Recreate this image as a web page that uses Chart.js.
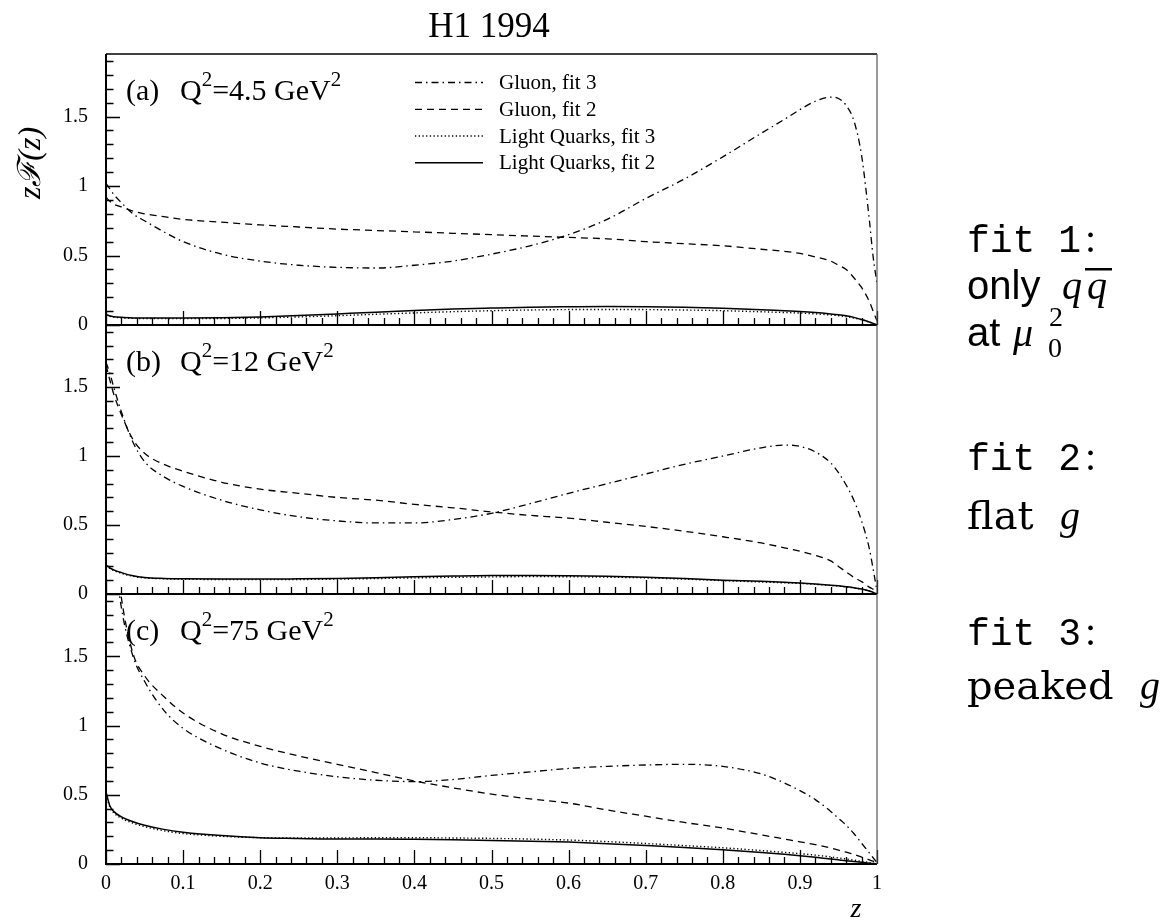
<!DOCTYPE html>
<html><head><meta charset="utf-8">
<script src="https://cdn.jsdelivr.net/npm/chart.js@4.4.1/dist/chart.umd.min.js"></script>
<style>
html,body{margin:0;padding:0;background:#fff;}
#wrap{position:relative;width:1171px;height:924px;background:#fff;overflow:hidden}
#wrap canvas{position:absolute;left:0;top:0;}
</style></head><body>
<div id="wrap">
<canvas id="ca" width="1171" height="924"></canvas>
<canvas id="cb" width="1171" height="924"></canvas>
<canvas id="cc" width="1171" height="924"></canvas>
</div>
<script>
// ---------------- data ----------------
const titleText = 'H1 1994';
const seriesLabels = ['Gluon, fit 3', 'Gluon, fit 2', 'Light Quarks, fit 3', 'Light Quarks, fit 2'];
const panelTags = ['(a)', '(b)', '(c)'];
const panelQ2 = ['4.5', '12', '75'];
const xTickLabels = ['0','0.1','0.2','0.3','0.4','0.5','0.6','0.7','0.8','0.9','1'];
const yTickLabels = ['0','0.5','1','1.5'];
const zValues = [0,0.005,0.01,0.02,0.035,0.05,0.075,0.1,0.15,0.2,0.25,0.3,0.35,0.4,0.45,0.5,0.55,0.6,0.65,0.7,0.75,0.8,0.85,0.88,0.9,0.92,0.94,0.95,0.96,0.97,0.98,0.99,0.995,1];

// panel (a) Q2 = 4.5 GeV2
const gluonFit3A = [1.02,0.98,0.94,0.88,0.80,0.75,0.67,0.60,0.51,0.46,0.43,0.415,0.41,0.43,0.46,0.51,0.57,0.65,0.76,0.91,1.05,1.21,1.38,1.48,1.55,1.61,1.64,1.63,1.58,1.47,1.22,0.76,0.49,0.30];
const gluonFit2A = [0.92,0.89,0.87,0.85,0.82,0.80,0.78,0.76,0.74,0.72,0.705,0.69,0.68,0.67,0.66,0.65,0.64,0.63,0.62,0.60,0.585,0.57,0.545,0.53,0.515,0.49,0.46,0.43,0.40,0.34,0.27,0.17,0.10,0.03];
const quarkFit3A = [0.07,0.062,0.057,0.052,0.048,0.047,0.046,0.046,0.047,0.051,0.058,0.067,0.077,0.087,0.096,0.103,0.108,0.111,0.112,0.111,0.108,0.103,0.095,0.09,0.086,0.08,0.072,0.067,0.06,0.05,0.038,0.021,0.011,0];
const quarkFit2A = [0.075,0.065,0.06,0.055,0.05,0.05,0.05,0.05,0.052,0.058,0.068,0.08,0.092,0.105,0.115,0.122,0.128,0.131,0.133,0.132,0.128,0.121,0.11,0.102,0.097,0.09,0.08,0.074,0.066,0.055,0.04,0.022,0.012,0];

// panel (b) Q2 = 12 GeV2
const gluonFit3B = [1.68,1.60,1.50,1.32,1.10,0.96,0.85,0.78,0.68,0.61,0.56,0.53,0.515,0.515,0.54,0.585,0.655,0.73,0.80,0.87,0.94,1.00,1.06,1.08,1.07,1.03,0.95,0.88,0.79,0.68,0.53,0.33,0.18,0.02];
const gluonFit2B = [1.66,1.55,1.45,1.30,1.12,1.02,0.94,0.89,0.81,0.76,0.73,0.70,0.68,0.65,0.625,0.595,0.57,0.55,0.52,0.49,0.455,0.415,0.37,0.335,0.31,0.28,0.24,0.20,0.16,0.12,0.09,0.05,0.035,0.02];
const quarkFit3B = [0.205,0.185,0.17,0.15,0.128,0.117,0.11,0.107,0.105,0.104,0.105,0.108,0.112,0.117,0.121,0.124,0.126,0.125,0.122,0.117,0.108,0.097,0.087,0.081,0.077,0.07,0.062,0.057,0.051,0.044,0.035,0.021,0.011,0];
const quarkFit2B = [0.21,0.19,0.175,0.155,0.132,0.12,0.113,0.11,0.108,0.108,0.11,0.113,0.118,0.125,0.13,0.134,0.135,0.133,0.129,0.122,0.112,0.10,0.092,0.085,0.08,0.073,0.064,0.059,0.053,0.046,0.036,0.022,0.012,0];

// panel (c) Q2 = 75 GeV2
const gluonFit3C = [3.2,2.7,2.3,1.85,1.5,1.32,1.11,0.98,0.83,0.73,0.67,0.63,0.605,0.595,0.61,0.64,0.665,0.69,0.705,0.715,0.72,0.705,0.65,0.585,0.53,0.465,0.38,0.33,0.28,0.22,0.15,0.08,0.045,0.01];
const gluonFit2C = [3.4,2.9,2.4,1.92,1.52,1.36,1.21,1.09,0.94,0.85,0.78,0.72,0.66,0.60,0.55,0.505,0.47,0.44,0.39,0.345,0.30,0.26,0.21,0.18,0.16,0.14,0.115,0.10,0.085,0.07,0.05,0.03,0.02,0.01];
const quarkFit3C = [0.5,0.41,0.37,0.33,0.295,0.27,0.24,0.22,0.2,0.19,0.188,0.188,0.19,0.19,0.188,0.185,0.18,0.173,0.162,0.148,0.133,0.117,0.097,0.084,0.075,0.064,0.051,0.044,0.036,0.028,0.019,0.01,0.005,0];
const quarkFit2C = [0.52,0.42,0.38,0.34,0.305,0.28,0.25,0.23,0.205,0.19,0.185,0.18,0.18,0.178,0.175,0.17,0.165,0.158,0.147,0.134,0.12,0.103,0.083,0.07,0.06,0.048,0.036,0.03,0.024,0.018,0.012,0.006,0.003,0];

// ---------------- layout / style ----------------
const W = 1171, H = 924;
const plotLeft = 106, plotRight = 877;
const panelTop = [54, 325, 594];
const panelBottom = [325, 594, 864];
const dashes = [[7,4,1.5,4],[7,5],[1.3,2.4],[]];
const lineWidths = [1.3,1.3,1.4,1.5];
const SERIF = '"Liberation Serif", "Times New Roman", serif';

function drawLegend(ctx, chart) {
  const rows = [82.5, 109.3, 136, 162.7];
  ctx.font = '21px ' + SERIF;
  ctx.textBaseline = 'middle';
  ctx.textAlign = 'left';
  chart.data.datasets.forEach((ds, i) => {
    const y = rows[i];
    ctx.save();
    ctx.strokeStyle = '#000';
    ctx.lineWidth = ds.borderWidth;
    ctx.setLineDash(ds.borderDash || []);
    ctx.beginPath(); ctx.moveTo(415, y); ctx.lineTo(483, y); ctx.stroke();
    ctx.restore();
    ctx.fillText(ds.label, 499, y + 1);
  });
}

function drawPanelLabel(ctx, area, idx) {
  const base = area.top + 46;
  ctx.textBaseline = 'alphabetic';
  ctx.textAlign = 'left';
  const big = '30px ' + SERIF, small = '21px ' + SERIF;
  ctx.font = big;
  ctx.fillText(panelTags[idx], 126, base);
  let x = 180;
  ctx.fillText('Q', x, base); x += ctx.measureText('Q').width;
  ctx.font = small; ctx.fillText('2', x, base - 14); x += ctx.measureText('2').width;
  ctx.font = big; const t = '=' + panelQ2[idx] + ' GeV';
  ctx.fillText(t, x, base); x += ctx.measureText(t).width;
  ctx.font = small; ctx.fillText('2', x, base - 14);
}

function drawNotes(ctx) {
  const mono = '38px "Liberation Mono", "DejaVu Sans Mono", monospace';
  const colon = '40px ' + SERIF;
  const sans = '40px "Liberation Sans", Arial, sans-serif';
  const rom = '40px "DejaVu Serif", serif';
  const ital = 'italic 40px ' + SERIF;
  ctx.textBaseline = 'alphabetic'; ctx.textAlign = 'left'; ctx.fillStyle = '#000';
  const fitBase = [252, 470, 645];
  ['fit 1', 'fit 2', 'fit 3'].forEach((t, i) => {
    ctx.font = mono; ctx.fillText(t, 967, fitBase[i]);
    const w = ctx.measureText(t).width;
    ctx.font = colon; ctx.fillText(':', 967 + w + 4, fitBase[i]);
  });
  // only q qbar
  ctx.font = sans; ctx.fillText('only', 967, 299);
  ctx.font = ital; ctx.fillText('q', 1062, 299); ctx.fillText('q', 1087, 299);
  ctx.fillRect(1085, 268, 27, 2.5);
  // at mu0^2
  ctx.font = sans; ctx.fillText('at', 967, 346);
  ctx.font = ital; ctx.fillText('μ', 1013, 346);
  ctx.font = '28px ' + SERIF; ctx.fillText('0', 1048, 357); ctx.fillText('2', 1049, 326);
  // flat g
  ctx.font = rom; ctx.fillText('flat', 967, 529);
  ctx.font = ital; ctx.fillText('g', 1060, 529);
  // peaked g
  ctx.font = rom; ctx.fillText('peaked', 967, 699);
  ctx.font = ital; ctx.fillText('g', 1140, 699);
}

const decor = {
  id: 'decor',
  afterDatasetsDraw(chart, args, opts) {
    const ctx = chart.ctx, a = chart.chartArea;
    const xs = chart.scales.x, ys = chart.scales.y;
    ctx.save();
    ctx.strokeStyle = '#000'; ctx.fillStyle = '#000';
    // inward ticks
    ctx.lineWidth = 1.3;
    ctx.beginPath();
    for (let i = 0; i <= 50; i++) {
      const px = Math.round(xs.getPixelForValue(i / 50)) + 0.5;
      const len = (i % 5 === 0) ? 14 : 7;
      ctx.moveTo(px, a.bottom); ctx.lineTo(px, a.bottom - len);
    }
    for (let i = 0; i <= 19; i++) {
      const py = Math.round(ys.getPixelForValue(i / 10)) + 0.5;
      const len = (i % 5 === 0) ? 14 : 7.5;
      ctx.moveTo(a.left, py); ctx.lineTo(a.left + len, py);
    }
    ctx.stroke();
    // frame
    ctx.lineWidth = 2;
    ctx.beginPath();
    ctx.moveTo(a.left, a.top); ctx.lineTo(a.left, a.bottom); ctx.lineTo(a.right, a.bottom);
    ctx.stroke();
    ctx.lineWidth = 1.4;
    ctx.beginPath();
    ctx.moveTo(a.left, a.top); ctx.lineTo(a.right, a.top);
    ctx.stroke();
    ctx.strokeStyle = '#555';
    ctx.lineWidth = 1.2;
    ctx.beginPath();
    ctx.moveTo(a.right, a.top); ctx.lineTo(a.right, a.bottom);
    ctx.stroke();
    ctx.strokeStyle = '#000';
    drawPanelLabel(ctx, a, opts.idx);
    if (opts.idx === 0) {
      drawLegend(ctx, chart);
      ctx.font = '35px ' + SERIF; ctx.textAlign = 'center'; ctx.textBaseline = 'alphabetic';
      ctx.fillText(titleText, 489, 37);
      ctx.save();
      ctx.translate(32, 163); ctx.rotate(-Math.PI / 2);
      ctx.font = 'italic 32px ' + SERIF; ctx.textAlign = 'center'; ctx.textBaseline = 'middle';
      ctx.fillText('zℱ(z)', 0, 0);
      ctx.restore();
    }
    if (opts.idx === 2) {
      ctx.font = 'italic 28px ' + SERIF; ctx.textAlign = 'center'; ctx.textBaseline = 'middle';
      ctx.fillText('z', 856, 910);
      drawNotes(ctx);
    }
    ctx.restore();
  }
};

function makePanel(canvasId, idx, seriesList) {
  const showX = idx === 2;
  const xAxisH = showX ? 40 : 0;
  return new Chart(document.getElementById(canvasId), {
    type: 'line',
    data: {
      datasets: seriesList.map((vals, i) => ({
        label: seriesLabels[i],
        data: zValues.map((z, k) => ({ x: z, y: vals[k] })),
        borderColor: '#000',
        borderWidth: lineWidths[i],
        borderDash: dashes[i],
        pointRadius: 0,
        cubicInterpolationMode: 'monotone',
        fill: false
      }))
    },
    options: {
      responsive: false, animation: false, devicePixelRatio: 1,
      layout: { padding: { top: panelTop[idx], bottom: H - panelBottom[idx] - xAxisH, left: 0, right: W - plotRight } },
      plugins: { legend: { display: false }, tooltip: { enabled: false }, title: { display: false }, decor: { idx: idx } },
      scales: {
        x: {
          type: 'linear', min: 0, max: 1,
          grid: { display: false, drawTicks: false }, border: { display: false },
          ticks: { display: showX, stepSize: 0.1, padding: 8, color: '#000', autoSkip: false, maxRotation: 0,
                   font: { family: 'Liberation Serif', size: 20 },
                   callback: v => xTickLabels[Math.round(v * 10)] },
          afterFit: s => { s.height = xAxisH; }
        },
        y: {
          type: 'linear', min: 0, max: 1.95,
          grid: { display: false, drawTicks: false }, border: { display: false },
          ticks: { stepSize: 0.5, padding: 18, color: '#000',
                   font: { family: 'Liberation Serif', size: 20 },
                   callback: v => yTickLabels[Math.round(v * 2)] },
          afterBuildTicks: s => { s.ticks = s.ticks.filter(t => Math.abs(t.value * 2 - Math.round(t.value * 2)) < 1e-6); },
          afterFit: s => { s.width = plotLeft; }
        }
      }
    },
    plugins: [decor]
  });
}

makePanel('ca', 0, [gluonFit3A, gluonFit2A, quarkFit3A, quarkFit2A]);
makePanel('cb', 1, [gluonFit3B, gluonFit2B, quarkFit3B, quarkFit2B]);
makePanel('cc', 2, [gluonFit3C, gluonFit2C, quarkFit3C, quarkFit2C]);
</script>
</body></html>
